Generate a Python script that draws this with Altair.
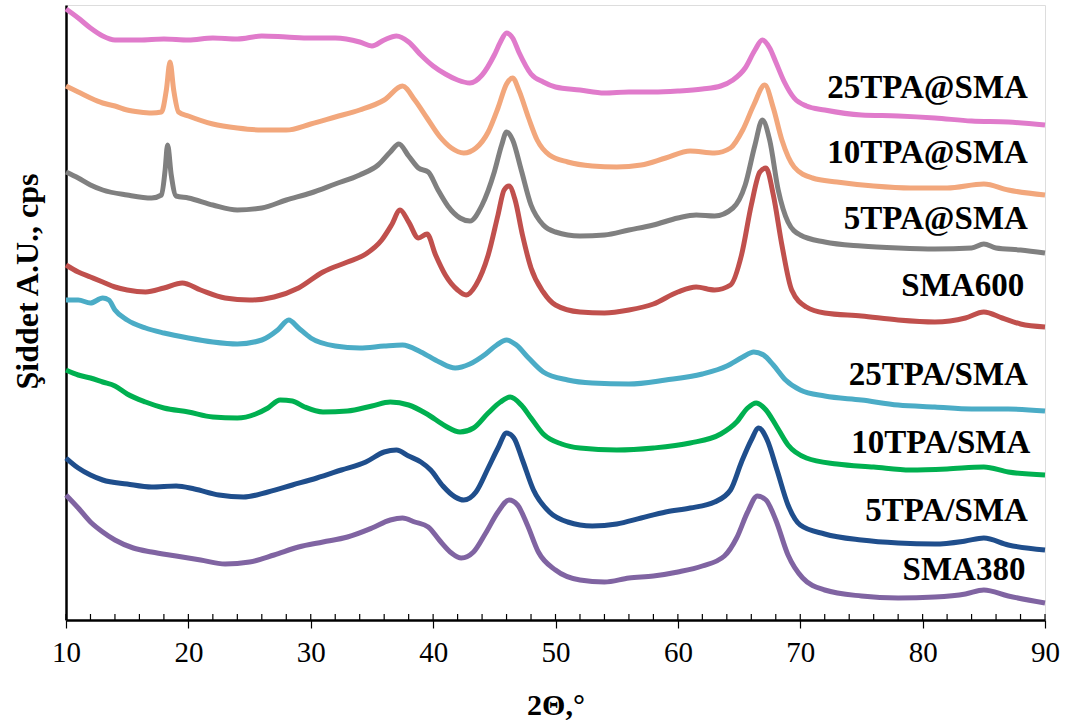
import altair as alt
import pandas as pd

# ---------------- data ----------------
series_names = ["25TPA@SMA", "10TPA@SMA", "5TPA@SMA", "SMA600",
                "25TPA/SMA", "10TPA/SMA", "5TPA/SMA", "SMA380"]
series_colors = ["#E07BCB", "#F2A77C", "#808080", "#C0504D",
                 "#4BACC6", "#00B050", "#1F4E8C", "#8064A2"]

tpa25_at_x = [10, 11, 12, 13, 14, 16, 18, 20, 22, 24, 26, 28, 30, 32, 34, 35, 36, 37, 38, 39,
              40, 41, 42, 43, 44, 45, 45.5, 46, 46.5, 47, 48, 49, 50, 52, 54, 56, 58, 60, 62,
              63.5, 64.5, 65.5, 66.3, 66.9, 67.5, 68, 68.7, 69.5, 70.5, 72, 75, 78, 81, 84, 87, 90]
tpa25_at_y = [611, 602, 592, 584, 580, 580, 581, 580, 582, 581, 584, 583, 582, 582, 578, 574, 580, 584, 578, 565,
              554, 546, 540, 537, 545, 565, 578, 587, 582, 568, 546, 538, 533, 530, 527, 528, 528, 529, 531,
              534, 540, 552, 570, 580, 572, 558, 538, 522, 514, 510, 505, 504, 502, 499, 498, 495]

tpa10_at_x = [10, 11, 12, 13, 14, 15, 16, 17, 17.8, 18.2, 18.5, 18.8, 19.2, 20, 22, 24, 26, 28, 30, 32,
              34, 36, 37.5, 38.5, 39.5, 40.5, 41.5, 42.5, 43.5, 44.5, 45.3, 46, 46.5, 47, 47.8, 48.5,
              49.5, 51, 53, 55, 57, 59, 61, 63, 64.3, 65.3, 66.2, 67.1, 67.8, 68.5, 69.5, 71, 73, 76,
              79, 82, 85, 87, 90]
tpa10_at_y = [534, 528, 522, 517, 514, 510, 508, 507, 508, 530, 558, 530, 508, 504, 496, 492, 490, 490, 496, 503,
              510, 520, 534, 520, 502, 484, 472, 467, 472, 488, 512, 536, 542, 530, 502, 480,
              465, 458, 454, 453, 455, 462, 469, 467, 472, 490, 515, 535, 512, 480, 453, 442, 438, 434,
              432, 432, 436, 430, 425]

tpa5_at_x = [10, 11, 12, 13, 15, 17, 17.8, 18.1, 18.3, 18.6, 19, 20, 22, 24, 26, 28, 30, 32, 34, 35.5,
             36.5, 37.2, 38, 38.8, 39.6, 40.4, 41.2, 42.2, 43, 44, 45, 45.6, 46, 46.5, 47.2, 48, 49,
             50, 52, 54, 56, 58, 60, 61.5, 63, 64.5, 65.5, 66.3, 66.9, 67.5, 68.2, 69, 70, 72, 75,
             78, 81, 84, 85, 86, 88, 90]
tpa5_at_y = [448, 442, 435, 430, 425, 422, 425, 450, 475, 445, 424, 422, 415, 410, 412, 420, 427, 436, 445, 455,
             468, 476, 464, 452, 448, 430, 414, 402, 399, 415, 448, 475, 488, 480, 450, 415, 395,
             388, 384, 385, 390, 395, 402, 405, 404, 412, 435, 475, 500, 480, 430, 398, 385, 378, 374,
             372, 371, 372, 376, 372, 370, 367]

sma600_x = [10, 11, 12, 13, 14, 15, 16.5, 18, 19.5, 21, 23, 25, 27, 29, 31, 33, 34.5, 35.8, 36.6, 37.3,
            38, 38.8, 39.5, 40.2, 41, 42, 42.7, 43.5, 44.5, 45.3, 45.8, 46.2, 46.7, 47.3, 48, 49, 50,
            52, 54, 56, 58, 60, 61.5, 63, 64.3, 65.2, 66, 66.7, 67.2, 67.8, 68.5, 69.3, 70.5, 72, 75,
            78, 81, 83.5, 85, 86.5, 88, 90]
sma600_y = [355, 348, 343, 338, 333, 330, 328, 332, 337, 330, 322, 320, 323, 332, 348, 358, 366, 380, 395, 410,
            398, 382, 386, 365, 345, 330, 325, 335, 365, 405, 430, 434, 420, 385, 352, 328, 315,
            308, 307, 310, 316, 328, 333, 330, 335, 365, 415, 448, 452, 425, 375, 330, 313, 307, 304,
            300, 298, 302, 308, 302, 296, 293]

tpa25_sl_x = [10, 11, 12, 13, 13.5, 14, 15, 16.5, 18, 20, 22, 24, 26, 27.3, 28.2, 29, 30, 32, 34, 36,
              37.5, 39, 40.5, 41.8, 43, 44.3, 45.2, 46, 46.8, 47.8, 49, 51, 53, 56, 59, 62, 64, 65.3,
              66.2, 67, 67.8, 68.8, 70, 72, 75, 78, 81, 84, 87, 90]
tpa25_sl_y = [320, 320, 317, 322, 320, 310, 300, 292, 287, 282, 278, 276, 280, 290, 300, 292, 282, 274, 272, 274,
              275, 268, 258, 252, 256, 266, 275, 280, 275, 262, 248, 240, 237, 236, 240, 246, 254, 263,
              268, 265, 255, 240, 230, 224, 220, 215, 213, 211, 211, 209]

tpa10_sl_x = [10, 11, 12, 13, 14, 15, 16.5, 18, 20, 22, 24, 25.5, 26.5, 27.5, 28.5, 29.5, 31, 33, 35, 36.5,
              38, 39.5, 41, 42.2, 43.3, 44.5, 45.5, 46.3, 47.2, 48, 49, 50.5, 52, 55, 58, 61, 63.5,
              64.8, 65.7, 66.4, 67.2, 68, 69, 70.5, 73, 76, 79, 82, 85, 87, 90]
tpa10_sl_y = [250, 245, 242, 238, 234, 226, 218, 212, 208, 203, 202, 206, 212, 220, 219, 213, 208, 209, 214, 218,
              215, 206, 194, 188, 192, 207, 218, 223, 215, 202, 186, 176, 172, 170, 172, 177, 186,
              198, 212, 217, 210, 195, 175, 162, 156, 153, 150, 151, 153, 148, 145]

tpa5_sl_x = [10, 11, 12, 13, 15, 17, 19, 20.5, 22.5, 24.5, 26.5, 28.5, 30.5, 32.5, 34.5, 36, 37, 38, 39,
             39.8, 40.8, 41.8, 42.5, 43.5, 44.5, 45.3, 46, 46.6, 47.3, 48.2, 49.5, 51, 53, 55, 57, 59,
             61, 63, 64.3, 65.2, 66, 66.6, 67.3, 68.1, 69, 70, 72, 75, 78, 81, 83.5, 85, 87, 90]
tpa5_sl_y = [162, 152, 145, 140, 136, 133, 134, 131, 125, 123, 128, 135, 142, 150, 158, 168, 170, 164, 158,
             150, 134, 123, 120, 128, 152, 172, 187, 182, 160, 130, 108, 98, 94, 96, 102, 108,
             112, 118, 130, 158, 180, 192, 180, 150, 115, 95, 86, 80, 77, 76, 79, 82, 75, 70]

sma380_x = [10, 11, 12, 13, 14, 15.5, 17, 19, 21, 23, 25, 27, 29, 31, 33, 35, 36.5, 37.5, 38.5, 39.6,
            40.5, 41.5, 42.3, 43.3, 44.3, 45.3, 46.2, 46.9, 47.7, 48.6, 50, 52, 54, 56, 58, 60, 62,
            63.8, 64.8, 65.7, 66.5, 67.2, 68, 69, 70.2, 72, 75, 78, 81, 83.5, 85, 87, 90]
sma380_y = [125, 112, 98, 88, 80, 72, 68, 64, 60, 56, 58, 65, 73, 78, 83, 92, 100, 102, 98, 93,
            80, 67, 62, 68, 87, 108, 120, 115, 95, 68, 50, 40, 38, 42, 44, 48, 54,
            64, 82, 108, 124, 120, 100, 65, 42, 30, 24, 22, 23, 26, 30, 24, 17]

# label positions (right edge of each label, in data units)
label_x = [88.6, 88.6, 88.6, 88.3, 88.6, 88.8, 88.6, 88.4]
label_y = [532, 467, 401, 334, 245, 177, 109, 50]

major_ticks = [10, 20, 30, 40, 50, 60, 70, 80, 90]
minor_ticks = list(range(10, 91, 2))

# ---------------- build tables ----------------
all_x = [tpa25_at_x, tpa10_at_x, tpa5_at_x, sma600_x, tpa25_sl_x, tpa10_sl_x, tpa5_sl_x, sma380_x]
all_y = [tpa25_at_y, tpa10_at_y, tpa5_at_y, sma600_y, tpa25_sl_y, tpa10_sl_y, tpa5_sl_y, sma380_y]
rows = []
for name, xs, ys in zip(series_names, all_x, all_y):
    for xv, yv in zip(xs, ys):
        rows.append({"theta": xv, "intensity": yv, "sample": name})
curves = pd.DataFrame(rows)
labels = pd.DataFrame({"theta": label_x, "intensity": label_y, "sample": series_names})
ticks = pd.DataFrame({"theta": minor_ticks})

FONT = "Liberation Serif"
W, H = 979, 615

xscale = alt.Scale(domain=[10, 90], nice=False, zero=False)
yscale = alt.Scale(domain=[0, 615], nice=False, zero=False)
color = alt.Color("sample:N", scale=alt.Scale(domain=series_names, range=series_colors), legend=None)

lines = alt.Chart(curves).mark_line(strokeWidth=5, strokeJoin="round", interpolate="monotone").encode(
    x=alt.X("theta:Q", scale=xscale,
            axis=alt.Axis(title="2Θ,°", values=major_ticks, format="d", grid=False, labelFlush=False,
                          domainColor="black", domainWidth=2.5, tickColor="black", tickWidth=1.2,
                          tickSize=8, labelFont=FONT, labelFontSize=29, labelColor="black",
                          labelPadding=10, titleFont=FONT, titleFontSize=30, titleFontWeight="bold",
                          titleColor="black", titleY=85, titleBaseline="middle")),
    y=alt.Y("intensity:Q", scale=yscale,
            axis=alt.Axis(title="Şiddet A.U., cps", labels=False, ticks=False, grid=False,
                          domainColor="black", domainWidth=2.5, titleFont=FONT, titleFontSize=32,
                          titleFontWeight="bold", titleColor="black", titleX=-39, titleY=276,
                          titleBaseline="middle", titleAngle=-90, titleAlign="center")),
    color=color,
    detail="sample:N",
)

minor = alt.Chart(ticks).mark_rule(color="black", strokeWidth=1.2).encode(
    x=alt.X("theta:Q", scale=xscale),
    y=alt.value(H),
    y2=alt.value(H - 6),
)

text = alt.Chart(labels).mark_text(font=FONT, fontSize=33, fontWeight="bold", align="right",
                                   baseline="middle", color="black").encode(
    x=alt.X("theta:Q", scale=xscale),
    y=alt.Y("intensity:Q", scale=yscale),
    text="sample:N",
)

chart = alt.layer(lines, minor, text).properties(
    width=W, height=H,
    autosize=alt.AutoSizeParams(type="none"),
    padding={"left": 66, "top": 5, "right": 22, "bottom": 102},
).configure_view(stroke="black", strokeWidth=2.5).configure(background="white")

chart.save("out.html", embed_options={"renderer": "svg", "actions": False})
